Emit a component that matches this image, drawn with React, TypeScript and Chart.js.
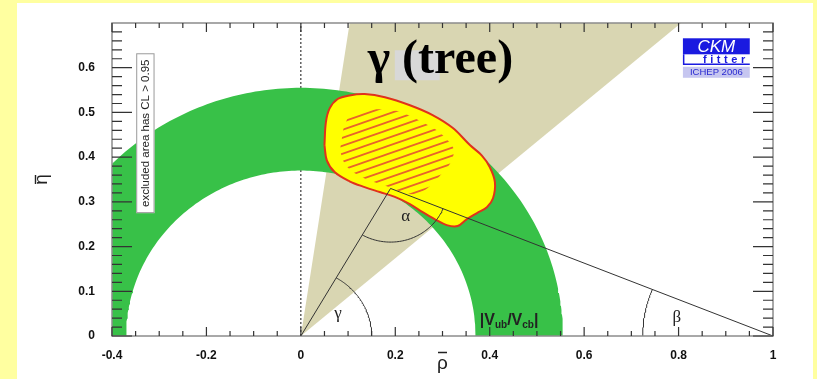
import React, { useEffect, useRef } from "react";
import { Chart, registerables } from "chart.js";

Chart.register(...registerables);

// ---- axes ----
const RHO_MIN = -0.4;
const RHO_MAX = 1;
const ETA_MIN = 0;
const ETA_MAX = 0.7;
const RHO_TICKS = [-0.4, -0.2, 0, 0.2, 0.4, 0.6, 0.8, 1];
const ETA_TICKS = [0, 0.1, 0.2, 0.3, 0.4, 0.5, 0.6];
const RHO_MINOR_STEP = 0.05;
const ETA_MINOR_STEP = 0.02;

// ---- |Vub/Vcb| ring (radii around the origin) ----
const VUB_INNER_R = 0.37;
const VUB_OUTER_R = 0.555;

// ---- gamma (tree) wedge, degrees ----
const GAMMA_LOW_DEG = 41.0;
const GAMMA_HIGH_DEG = 81.6;

// ---- unitarity triangle apex ----
const APEX_RHO = 0.19;
const APEX_ETA = 0.33;

// ---- combined fit contours ----
const CL95_RHO = [0.050, 0.053, 0.061, 0.078, 0.103, 0.135, 0.178, 0.231, 0.279, 0.322, 0.358, 0.383, 0.400, 0.411, 0.407, 0.394, 0.373, 0.351, 0.332, 0.309, 0.284, 0.258, 0.231, 0.199, 0.167, 0.135, 0.103, 0.072, 0.055];
const CL95_ETA = [0.427, 0.478, 0.509, 0.530, 0.538, 0.541, 0.534, 0.516, 0.494, 0.465, 0.427, 0.404, 0.378, 0.344, 0.308, 0.288, 0.275, 0.261, 0.246, 0.248, 0.261, 0.277, 0.295, 0.311, 0.322, 0.333, 0.346, 0.366, 0.393];
const CL68_RHO = [0.099, 0.129, 0.156, 0.205, 0.231, 0.262, 0.288, 0.315, 0.324, 0.318, 0.301, 0.284, 0.262, 0.237, 0.209, 0.182, 0.150, 0.125, 0.103, 0.091, 0.084, 0.087, 0.091];
const CL68_ETA = [0.487, 0.498, 0.507, 0.503, 0.492, 0.476, 0.460, 0.433, 0.416, 0.389, 0.366, 0.346, 0.326, 0.317, 0.324, 0.335, 0.346, 0.358, 0.373, 0.389, 0.416, 0.442, 0.467];

// ---- angle arcs ----
const ARC_GAMMA_R = 0.15;
const ARC_ALPHA_R = 0.12;
const ARC_BETA_R = 0.276;

// ---- colours ----
const PAGE_BG = "#ffffa0";
const RING_GREEN = "#38c148";
const WEDGE_BEIGE = "#d9d6b2";
const CONTOUR_YELLOW = "#ffff00";
const CONTOUR_RED = "#e0321c";
const HATCH_RED = "#e8642a";
const LINE_DARK = "#333333";
const FRAME_GREY = "#8c8c8c";
const LOGO_BLUE = "#1a1ae0";
const LOGO_LAVENDER = "#c6c6f0";

const SANS = "'Liberation Sans', Arial, sans-serif";
const SERIF = "'Liberation Serif', 'Times New Roman', serif";

type Pt = { x: number; y: number };

function arcPts(cx: number, cy: number, r: number, a0: number, a1: number, n = 90): Pt[] {
  const out: Pt[] = [];
  for (let i = 0; i <= n; i++) {
    const a = ((a0 + ((a1 - a0) * i) / n) * Math.PI) / 180;
    out.push({ x: cx + r * Math.cos(a), y: cy + r * Math.sin(a) });
  }
  return out;
}

function closed(xs: number[], ys: number[]): Pt[] {
  const pts = xs.map((x, i) => ({ x, y: ys[i] }));
  pts.push({ ...pts[0] });
  return pts;
}

function hatchPattern(): CanvasPattern | string {
  const w = 23;
  const h = 8;
  const c = document.createElement("canvas");
  c.width = w;
  c.height = h;
  const g = c.getContext("2d");
  if (!g) return HATCH_RED;
  g.strokeStyle = HATCH_RED;
  g.lineWidth = 1.8;
  for (const dy of [-h, 0, h]) {
    g.beginPath();
    g.moveTo(-w, 2 * h + dy);
    g.lineTo(2 * w, -h + dy);
    g.stroke();
  }
  return g.createPattern(c, "repeat") || HATCH_RED;
}

const decorPlugin = {
  id: "ckmDecor",
  afterDatasetsDraw(chart: any) {
    const ctx: CanvasRenderingContext2D = chart.ctx;
    const xs = chart.scales.x;
    const ys = chart.scales.y;
    const X = (v: number) => xs.getPixelForValue(v);
    const Y = (v: number) => ys.getPixelForValue(v);
    const { left, right, top, bottom } = chart.chartArea;

    ctx.save();

    // title with its grey highlight
    ctx.fillStyle = "#d8d8d8";
    ctx.fillRect(X(0.199), Y(0.639), X(0.294) - X(0.199), Y(0.572) - Y(0.639));
    ctx.fillStyle = "#000";
    ctx.font = `bold 48px ${SERIF}`;
    ctx.textAlign = "left";
    ctx.textBaseline = "alphabetic";
    ctx.fillText("γ (tree)", X(0.1415), Y(0.5876));

    // angle labels
    ctx.font = `17px ${SERIF}`;
    ctx.fillStyle = "#222";
    ctx.textAlign = "center";
    ctx.fillText("γ", X(0.0787), Y(0.040));
    ctx.fillText("α", X(0.2218), Y(0.2576));
    ctx.fillText("β", X(0.7965), Y(0.0308));

    // |Vub/Vcb| label
    {
      let x = X(0.379);
      const yb = Y(0.0246);
      ctx.textAlign = "left";
      const big = `bold 16px ${SANS}`;
      const small = `bold 10px ${SANS}`;
      const parts: [string, string, number][] = [
        ["|V", big, 0],
        ["ub", small, 3],
        ["/V", big, 0],
        ["cb", small, 3],
        ["|", big, 0],
      ];
      for (const [t, f, dy] of parts) {
        ctx.font = f;
        ctx.fillText(t, x, yb + dy);
        x += ctx.measureText(t).width;
      }
    }

    // excluded-area note
    {
      const x0 = X(-0.3487);
      const x1 = X(-0.3099);
      const y0 = Y(0.6323);
      const y1 = Y(0.2748);
      ctx.fillStyle = "#fff";
      ctx.fillRect(x0, y0, x1 - x0, y1 - y0);
      ctx.strokeStyle = "#9a9a9a";
      ctx.lineWidth = 1;
      ctx.strokeRect(x0 + 0.5, y0 + 0.5, x1 - x0 - 1, y1 - y0 - 1);
      ctx.save();
      ctx.translate((x0 + x1) / 2, (y0 + y1) / 2);
      ctx.rotate(-Math.PI / 2);
      ctx.fillStyle = "#222";
      ctx.font = `11.5px ${SANS}`;
      ctx.textAlign = "center";
      ctx.textBaseline = "middle";
      ctx.fillText("excluded area has CL > 0.95", 0, 0.5);
      ctx.restore();
    }

    // CKMfitter logo
    {
      const lx0 = X(0.8092);
      const lx1 = X(0.9508);
      const w = lx1 - lx0;
      const yTop = Y(0.6658);
      const yMid = Y(0.63);
      const yLow = Y(0.6077);
      const yI0 = Y(0.6021);
      const yI1 = Y(0.5775);
      ctx.fillStyle = LOGO_BLUE;
      ctx.fillRect(lx0, yTop, w, yMid - yTop);
      ctx.fillStyle = "#fff";
      ctx.font = `italic 17px ${SANS}`;
      ctx.textAlign = "center";
      ctx.textBaseline = "alphabetic";
      ctx.fillText("CKM", lx0 + w / 2, yMid - 2);
      ctx.strokeStyle = LOGO_BLUE;
      ctx.lineWidth = 1.5;
      ctx.beginPath();
      ctx.moveTo(lx0 + 0.75, yMid);
      ctx.lineTo(lx0 + 0.75, yLow);
      ctx.lineTo(lx1, yLow);
      ctx.stroke();
      ctx.fillStyle = LOGO_BLUE;
      ctx.font = `bold 11px ${SANS}`;
      ctx.textAlign = "left";
      let fx = lx0 + 20;
      for (const ch of "fitter") {
        ctx.fillText(ch, fx, yLow - 1.5);
        fx += ctx.measureText(ch).width + 3.6;
      }
      ctx.fillStyle = LOGO_LAVENDER;
      ctx.fillRect(lx0, yI0, w, yI1 - yI0);
      ctx.fillStyle = "#2a2ad0";
      ctx.font = `9.5px ${SANS}`;
      ctx.textAlign = "center";
      ctx.textBaseline = "middle";
      ctx.fillText("ICHEP 2006", lx0 + w / 2, (yI0 + yI1) / 2 + 0.5);
    }

    // bars over the axis titles (rho-bar, eta-bar)
    ctx.strokeStyle = "#222";
    ctx.lineWidth = 1.4;
    ctx.beginPath();
    const cx = (left + right) / 2;
    ctx.moveTo(cx - 4.5, 349.5);
    ctx.lineTo(cx + 4.5, 349.5);
    const cy = (top + bottom) / 2;
    ctx.moveTo(18.5, cy - 4.5);
    ctx.lineTo(18.5, cy + 4.5);
    ctx.stroke();

    // frame
    ctx.strokeStyle = FRAME_GREY;
    ctx.lineWidth = 1.5;
    ctx.strokeRect(left, top, right - left, bottom - top);

    // ticks on all four sides
    ctx.strokeStyle = LINE_DARK;
    ctx.lineWidth = 1.2;
    ctx.beginPath();
    const isMajor = (v: number, list: number[]) => list.some((t) => Math.abs(t - v) < 1e-6);
    for (let i = 0; ; i++) {
      const v = RHO_MIN + i * RHO_MINOR_STEP;
      if (v > RHO_MAX + 1e-6) break;
      const len = isMajor(v, RHO_TICKS) ? 9 : 5;
      const p = X(v);
      ctx.moveTo(p, bottom);
      ctx.lineTo(p, bottom - len);
      ctx.moveTo(p, top);
      ctx.lineTo(p, top + len);
    }
    for (let i = 0; ; i++) {
      const v = ETA_MIN + i * ETA_MINOR_STEP;
      if (v > ETA_MAX - 1e-6) break;
      const len = isMajor(v, ETA_TICKS) ? 20 : 10;
      const p = Y(v);
      ctx.moveTo(left, p);
      ctx.lineTo(left + len, p);
      ctx.moveTo(right, p);
      ctx.lineTo(right - len, p);
    }
    ctx.stroke();

    ctx.restore();
  },
};

export default function App() {
  const ref = useRef<HTMLCanvasElement>(null);

  useEffect(() => {
    const canvas = ref.current;
    if (!canvas) return;

    const apexAngle = (Math.atan2(APEX_ETA, APEX_RHO) * 180) / Math.PI;
    const betaAngle = (Math.atan2(APEX_ETA, 1 - APEX_RHO) * 180) / Math.PI;

    const ring = [
      ...arcPts(0, 0, VUB_OUTER_R, 0, 180, 180),
      ...arcPts(0, 0, VUB_INNER_R, 180, 0, 180),
    ];
    const far = 1.5;
    const wedge = [
      { x: 0, y: 0 },
      { x: far * Math.cos((GAMMA_LOW_DEG * Math.PI) / 180), y: far * Math.sin((GAMMA_LOW_DEG * Math.PI) / 180) },
      { x: far * Math.cos((GAMMA_HIGH_DEG * Math.PI) / 180), y: far * Math.sin((GAMMA_HIGH_DEG * Math.PI) / 180) },
    ];

    const base = { showLine: true, pointRadius: 0, pointHoverRadius: 0, tension: 0 };

    const chart = new Chart(canvas, {
      type: "scatter",
      data: {
        datasets: [
          { ...base, label: "gamma wedge", data: wedge, fill: "shape", backgroundColor: WEDGE_BEIGE, borderWidth: 0, order: 12 },
          { ...base, label: "rho = 0", data: [{ x: 0, y: ETA_MIN }, { x: 0, y: ETA_MAX }], borderColor: "#111", borderWidth: 1, borderDash: [2, 2], order: 11 },
          { ...base, label: "|Vub/Vcb|", data: ring, fill: "shape", backgroundColor: RING_GREEN, borderWidth: 0, order: 10 },
          { ...base, label: "CL 95%", data: closed(CL95_RHO, CL95_ETA), fill: "shape", backgroundColor: CONTOUR_YELLOW, borderColor: CONTOUR_RED, borderWidth: 2, tension: 0.35, order: 9 },
          { ...base, label: "CL 68%", data: closed(CL68_RHO, CL68_ETA), fill: "shape", backgroundColor: hatchPattern() as any, borderWidth: 0, tension: 0.35, order: 8 },
          { ...base, label: "triangle", data: [{ x: 0, y: 0 }, { x: APEX_RHO, y: APEX_ETA }, { x: 1, y: 0 }], borderColor: LINE_DARK, borderWidth: 1, order: 5 },
          { ...base, label: "gamma arc", data: arcPts(0, 0, ARC_GAMMA_R, 0, apexAngle, 60), borderColor: LINE_DARK, borderWidth: 1, order: 4 },
          { ...base, label: "alpha arc", data: arcPts(APEX_RHO, APEX_ETA, ARC_ALPHA_R, 180 + apexAngle, 360 - betaAngle, 60), borderColor: LINE_DARK, borderWidth: 1, order: 4 },
          { ...base, label: "beta arc", data: arcPts(1, 0, ARC_BETA_R, 180, 180 - betaAngle, 60), borderColor: LINE_DARK, borderWidth: 1, order: 4 },
        ],
      },
      options: {
        animation: false,
        responsive: false,
        devicePixelRatio: 1,
        events: [],
        layout: { padding: { top: 20, right: 40, left: 0, bottom: 0 } },
        plugins: { legend: { display: false }, tooltip: { enabled: false } },
        scales: {
          x: {
            type: "linear",
            min: RHO_MIN,
            max: RHO_MAX,
            grid: { display: false },
            border: { display: false },
            afterBuildTicks: (s: any) => {
              s.ticks = RHO_TICKS.map((value) => ({ value }));
            },
            afterFit: (s: any) => {
              s.height = 43;
            },
            ticks: {
              padding: 4,
              color: "#111",
              font: { family: SANS, weight: "bold", size: 12 },
              callback: (v: any) => String(Math.round(Number(v) * 10) / 10),
            },
            title: {
              display: true,
              text: "ρ",
              color: "#222",
              font: { family: SANS, size: 19 },
              padding: { top: 0, bottom: 4 },
            },
          },
          y: {
            type: "linear",
            min: ETA_MIN,
            max: ETA_MAX,
            grid: { display: false },
            border: { display: false },
            afterBuildTicks: (s: any) => {
              s.ticks = ETA_TICKS.map((value) => ({ value }));
            },
            afterFit: (s: any) => {
              s.width = 95;
            },
            ticks: {
              padding: 9,
              color: "#111",
              font: { family: SANS, weight: "bold", size: 12 },
              callback: (v: any) => String(Math.round(Number(v) * 10) / 10),
            },
            title: {
              display: true,
              text: "η",
              color: "#222",
              font: { family: SANS, size: 19 },
              padding: { top: 13, bottom: 0 },
            },
          },
        },
      },
      plugins: [decorPlugin],
    } as any);

    return () => chart.destroy();
  }, []);

  return (
    <div style={{ position: "fixed", left: 0, top: 0, width: 817, height: 379, background: PAGE_BG, overflow: "hidden" }}>
      <div style={{ position: "absolute", left: 17, top: 3, width: 796, height: 376, background: "#ffffff" }}>
        <canvas ref={ref} width={796} height={376} style={{ display: "block", width: 796, height: 376 }} />
      </div>
    </div>
  );
}
